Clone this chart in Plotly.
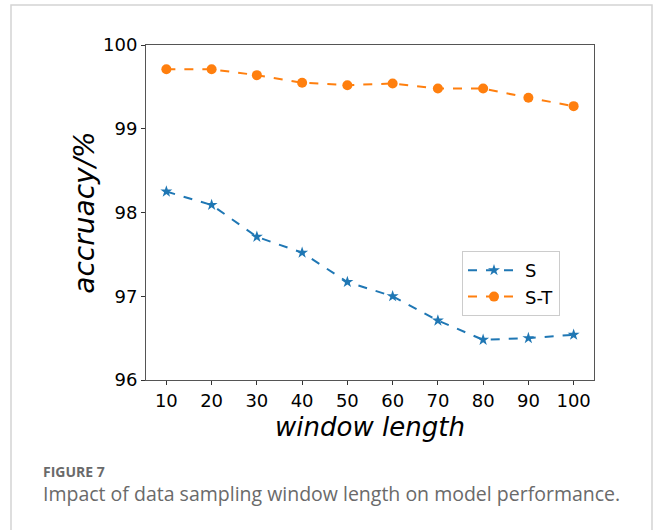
import plotly.graph_objects as go

window_length = [10, 20, 30, 40, 50, 60, 70, 80, 90, 100]
acc_S = [98.25, 98.09, 97.71, 97.52, 97.17, 97.00, 96.71, 96.48, 96.50, 96.54]
acc_ST = [99.71, 99.71, 99.64, 99.55, 99.52, 99.54, 99.48, 99.48, 99.37, 99.27]
y_ticks = [96, 97, 98, 99, 100]

W, H = 656, 530
L, R, T, B = 146, 62, 45, 150
pw, ph = W - L - R, H - T - B

def px(x):
    return (x - L) / pw

def py(y):
    return (H - B - y) / ph

fig = go.Figure()
fig.add_trace(go.Scatter(
    x=window_length, y=acc_S, name="S", mode="lines+markers",
    line=dict(color="#1f77b4", width=2, dash="dash"),
    marker=dict(symbol="star", size=9, color="#1f77b4"),
))
fig.add_trace(go.Scatter(
    x=window_length, y=acc_ST, name="S-T", mode="lines+markers",
    line=dict(color="#ff7f0e", width=2, dash="dash"),
    marker=dict(symbol="circle", size=10, color="#ff7f0e"),
))

fig.update_layout(
    width=W, height=H,
    margin=dict(l=L, r=R, t=T, b=B),
    paper_bgcolor="white", plot_bgcolor="white",
    font=dict(family="DejaVu Sans", color="black"),
    showlegend=True,
    legend=dict(
        x=px(462), y=py(251), xanchor="left", yanchor="top",
        bgcolor="white", bordercolor="#cccccc", borderwidth=1,
        font=dict(size=18, family="DejaVu Sans"),
        itemwidth=52, tracegroupgap=2,
    ),
    xaxis=dict(
        range=[5.5, 104.5], tickvals=window_length,
        ticks="outside", ticklen=4, tickcolor="#333", tickwidth=1,
        showline=True, linecolor="#555", linewidth=1, mirror=True,
        showgrid=False, zeroline=False,
        tickfont=dict(size=18, family="DejaVu Sans"),
        title=dict(text="<i>window length</i>", font=dict(size=26, family="DejaVu Sans"), standoff=8),
    ),
    yaxis=dict(
        range=[96, 100], tickvals=y_ticks,
        ticks="outside", ticklen=4, tickcolor="#333", tickwidth=1,
        showline=True, linecolor="#555", linewidth=1, mirror=True,
        showgrid=False, zeroline=False,
        tickfont=dict(size=18, family="DejaVu Sans"),
        title=dict(text="<i>accruacy/%</i>", font=dict(size=28, family="DejaVu Sans"), standoff=0),
    ),
    shapes=[dict(
        type="rect", xref="paper", yref="paper",
        x0=px(11), x1=px(652), y0=py(5), y1=py(545),
        line=dict(color="#d4d4d4", width=1.5), fillcolor="rgba(0,0,0,0)", layer="below",
    )],
    annotations=[
        dict(text="<b>FIGURE 7</b>", xref="paper", yref="paper", x=px(41), y=py(471),
             xanchor="left", yanchor="middle", showarrow=False,
             font=dict(size=14, family="Open Sans", color="#6a6a6a")),
        dict(text="Impact of data sampling window length on model performance.",
             xref="paper", yref="paper", x=px(41), y=py(493),
             xanchor="left", yanchor="middle", showarrow=False,
             font=dict(size=19.5, family="Open Sans", color="#6a6a6a")),
    ],
)

fig.write_html("out.html", config={"displayModeBar": False},
               post_script="document.body.style.margin='0px';")
